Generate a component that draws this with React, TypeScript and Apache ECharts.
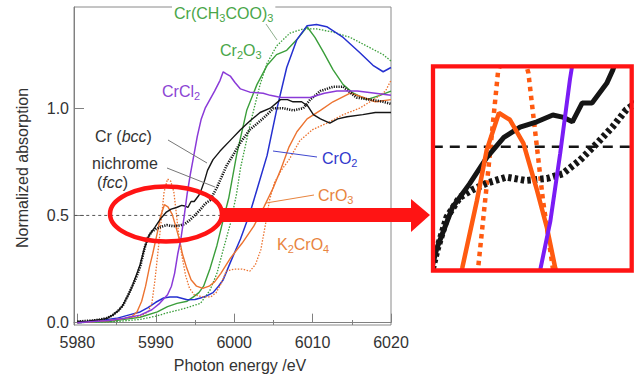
import React, { useEffect, useRef } from "react";
import * as echarts from "echarts";

const FONT = "'Liberation Sans', Arial, sans-serif";

const xLabelValues = [5980, 5990, 6000, 6010, 6020];
const xMinorValues = [5985, 5995, 6005, 6015];
const yLabelValues = [0, 0.5, 1.0];

const crBcc: number[][] = [
  [5980, 0.005], [5981, 0.005], [5982, 0.01], [5983, 0.015], [5983.8, 0.02], [5984.5, 0.035],
  [5985.2, 0.055], [5985.8, 0.08], [5986.5, 0.13], [5987, 0.17], [5987.5, 0.22], [5988, 0.27],
  [5988.57, 0.35], [5989.2, 0.41], [5989.9, 0.445], [5990.6, 0.484], [5991.3, 0.514], [5991.96, 0.529],
  [5992.65, 0.537], [5993.3, 0.547], [5993.7, 0.544], [5994.1, 0.537], [5994.5, 0.565], [5994.9, 0.565],
  [5995.5, 0.594], [5995.75, 0.614], [5996.2, 0.66], [5996.6, 0.71], [5997.3, 0.76], [5998.2, 0.8],
  [5999.5, 0.85], [6000.8, 0.9], [6002, 0.94], [6003.3, 0.98], [6004.6, 1.0], [6005.9, 1.04],
  [6006.8, 1.04], [6007.5, 1.03], [6008.6, 1.03], [6009.4, 1.01], [6010.1, 0.97], [6011, 0.95],
  [6012.2, 0.93], [6013.2, 0.95], [6014.4, 0.96], [6016.4, 0.97], [6018, 0.98], [6020, 0.98],
];

const nichrome: number[][] = [
  [5980, 0.005], [5981, 0.008], [5982, 0.01], [5983, 0.015], [5983.8, 0.022], [5984.5, 0.035],
  [5985.2, 0.055], [5985.8, 0.08], [5986.5, 0.13], [5987, 0.17], [5987.5, 0.21], [5988, 0.26],
  [5988.57, 0.347], [5988.98, 0.396], [5989.5, 0.425], [5990.0, 0.436], [5990.6, 0.446], [5991.4, 0.455],
  [5992.2, 0.45], [5993.06, 0.453], [5993.7, 0.46], [5994.4, 0.48], [5995.1, 0.505], [5995.75, 0.53],
  [5996.3, 0.555], [5996.9, 0.57], [5997.8, 0.63], [5999, 0.73], [6000, 0.79], [6000.8, 0.84],
  [6002, 0.9], [6003.3, 0.94], [6004.2, 0.97], [6005, 1.0], [6006.2, 1.0], [6007.5, 0.99],
  [6008.8, 1.0], [6009.7, 1.04], [6011, 1.08], [6012.6, 1.1], [6013.9, 1.1], [6015.6, 1.05],
  [6017.3, 1.04], [6019, 1.03], [6020, 1.02],
];

const crCl2: number[][] = [
  [5980, 0.0], [5982, 0.005], [5984, 0.01], [5986, 0.02], [5988, 0.035], [5989.5, 0.06],
  [5990.5, 0.09], [5991.5, 0.13], [5992, 0.17], [5992.4, 0.23], [5992.8, 0.32], [5993.2, 0.39],
  [5993.6, 0.49], [5994, 0.6], [5994.4, 0.69], [5994.8, 0.77], [5995.3, 0.87], [5995.8, 0.95],
  [5996.3, 1.0], [5996.9, 1.04], [5997.5, 1.08], [5998.2, 1.13], [5998.6, 1.17], [5999, 1.16],
  [5999.5, 1.15], [6000.1, 1.12], [6000.8, 1.09], [6002, 1.075], [6003.7, 1.07], [6004.6, 1.06],
  [6006, 1.05], [6007.1, 1.05], [6009.7, 1.05], [6011.5, 1.07], [6013.1, 1.08], [6015.7, 1.08],
  [6018, 1.07], [6020, 1.06],
];

const cr2o3: number[][] = [
  [5980, 0.0], [5984, 0.005], [5986, 0.015], [5988, 0.025], [5990.2, 0.05], [5991.5, 0.075],
  [5992.7, 0.09], [5994, 0.1], [5994.8, 0.12], [5995.5, 0.14], [5996.1, 0.17], [5996.9, 0.25],
  [5997.8, 0.36], [5998.6, 0.48], [5999.3, 0.58], [6000.3, 0.78], [6001.6, 0.99], [6002.9, 1.11],
  [6004.2, 1.2], [6005.4, 1.25], [6006.7, 1.27], [6008, 1.32], [6009.3, 1.38], [6010.3, 1.33],
  [6011.4, 1.26], [6012.6, 1.18], [6013.9, 1.11], [6015.2, 1.07], [6016.9, 1.04], [6018.6, 1.06],
  [6020, 1.08],
];

const crAcetate: number[][] = [
  [5980, 0.0], [5985, 0.005], [5988, 0.015], [5990, 0.03], [5991.4, 0.045], [5993, 0.06],
  [5994, 0.07], [5995.7, 0.09], [5996.9, 0.15], [5997.8, 0.23], [5998.6, 0.34], [5999.5, 0.46],
  [6000.3, 0.6], [6000.8, 0.72], [6002, 0.92], [6003.3, 1.11], [6004.2, 1.21], [6005.4, 1.29],
  [6007.1, 1.35], [6008.8, 1.37], [6010.5, 1.37], [6012.6, 1.355], [6014.8, 1.33], [6016.9, 1.29],
  [6019, 1.25], [6020, 1.22],
];

const crO2: number[][] = [
  [5980, 0.0], [5983, 0.01], [5985, 0.02], [5986.5, 0.035], [5988, 0.05], [5989, 0.07],
  [5990, 0.095], [5991, 0.115], [5991.8, 0.12], [5992.7, 0.12], [5994, 0.107], [5995, 0.108],
  [5995.7, 0.115], [5996.5, 0.125], [5997.3, 0.14], [5998, 0.17], [5998.6, 0.2], [5999.5, 0.28],
  [6000.8, 0.39], [6002, 0.51], [6002.9, 0.62], [6004.2, 0.78], [6005.4, 0.99], [6006.7, 1.19],
  [6008, 1.32], [6009.3, 1.385], [6010.5, 1.39], [6011.8, 1.38], [6013.9, 1.33], [6016, 1.26],
  [6017.7, 1.2], [6019, 1.17], [6020, 1.19],
];

const crO3: number[][] = [
  [5980, 0.0], [5982, 0.005], [5984, 0.01], [5986, 0.02], [5987, 0.03], [5987.6, 0.05],
  [5988.2, 0.1], [5988.7, 0.17], [5989.2, 0.26], [5989.6, 0.32], [5990.2, 0.42], [5990.6, 0.495],
  [5991.1, 0.55], [5991.55, 0.54], [5992.1, 0.505], [5992.65, 0.436], [5993.06, 0.38], [5993.4, 0.32],
  [5993.9, 0.26], [5994.5, 0.2], [5995.2, 0.17], [5996, 0.16], [5996.8, 0.17], [5997.5, 0.19],
  [5998.3, 0.23], [5999.5, 0.3], [6001, 0.37], [6002.5, 0.45], [6003.8, 0.54], [6005, 0.63],
  [6006, 0.72], [6007, 0.82], [6008, 0.89], [6009.3, 0.95], [6011, 0.99], [6012.6, 1.03],
  [6014.8, 1.07], [6016.5, 1.05], [6018, 1.03], [6020, 1.04],
];

const k2cro4: number[][] = [
  [5980, 0.0], [5984, 0.01], [5986, 0.02], [5988, 0.03], [5989, 0.05], [5989.5, 0.09],
  [5989.9, 0.2], [5990.25, 0.32], [5990.65, 0.46], [5991.06, 0.61], [5991.5, 0.67], [5991.9, 0.66],
  [5992.3, 0.61], [5992.65, 0.5], [5992.9, 0.42], [5993.3, 0.32], [5993.8, 0.22], [5994.3, 0.16],
  [5994.9, 0.13], [5996, 0.12], [5997, 0.12], [5997.7, 0.14], [5998.3, 0.18], [5999, 0.24],
  [6000, 0.25], [6001, 0.25], [6002, 0.24], [6002.7, 0.27], [6003.4, 0.34], [6004, 0.46],
  [6004.5, 0.57], [6005.1, 0.65], [6006, 0.71], [6007, 0.76], [6008.4, 0.85], [6010, 0.9],
  [6011.8, 0.93], [6013.9, 0.97], [6016, 1.0], [6018.2, 1.05], [6019.3, 1.08], [6020, 1.13],
];

const halfLevelMain: number[][] = [[5979.6, 0.5], [5998.3, 0.5]];
const halfLevelInset: number[][] = [[5988.4, 0.5], [5996.5, 0.5]];

const BLACK = "#151515";
const GREEN = "#3a9e3a";
const BLUE = "#2530d0";
const PURPLE = "#8a3ad8";
const ORANGE = "#ec7330";
const INSET_ORANGE = "#ff5a10";
const INSET_PURPLE = "#7a1cf5";
const RED = "#ff1414";

function line(data: number[][], color: string, width: number, type: any, idx: number, z = 2) {
  return {
    type: "line",
    data,
    xAxisIndex: idx,
    yAxisIndex: idx,
    showSymbol: false,
    symbol: "none",
    silent: true,
    clip: true,
    z,
    lineStyle: { color, width, type, cap: "butt" },
  };
}

const sub = (fill: string) => ({ fontSize: 11, fontFamily: FONT, fill, lineHeight: 10, verticalAlign: "bottom" });
const nor = (fill: string) => ({ fontSize: 16, fontFamily: FONT, fill, lineHeight: 20 });
const ita = (fill: string) => ({ fontSize: 16, fontFamily: FONT, fill, lineHeight: 20, fontStyle: "italic" });

function label(text: string, x: number, y: number, fill: string, extra: any = {}) {
  return {
    type: "text",
    x,
    y,
    z: 50,
    style: {
      text,
      textVerticalAlign: "middle",
      textAlign: "left",
      fill,
      rich: { n: nor(fill), s: sub(fill), i: ita(fill) },
      ...extra,
    },
  };
}

function pointer(x1: number, y1: number, x2: number, y2: number, color: string) {
  return { type: "line", z: 40, shape: { x1, y1, x2, y2 }, style: { stroke: color, lineWidth: 1 } };
}

export default function App() {
  const ref = useRef<HTMLDivElement>(null);
  useEffect(() => {
    const chart = echarts.init(ref.current!, null, { renderer: "svg" });
    const axisColor = "#808080";
    const option: any = {
      animation: false,
      backgroundColor: "#ffffff",
      grid: [
        { left: 74, top: 7, width: 317, height: 318, show: true, borderColor: "#8a8a8a", borderWidth: 1 },
        { left: 435, top: 68.5, width: 194.5, height: 200, show: false },
      ],
      xAxis: [
        {
          type: "value", gridIndex: 0, min: 5979.57, max: 6020,
          axisLine: { show: true, lineStyle: { color: axisColor } },
          axisTick: { show: true, inside: true, length: 9, customValues: xLabelValues, lineStyle: { color: axisColor } },
          axisLabel: {
            customValues: xLabelValues, color: "#333", fontSize: 16, fontFamily: FONT, margin: 9,
            formatter: (v: number) => String(Math.round(v)),
          },
          splitLine: { show: false },
        },
        { type: "value", gridIndex: 1, min: 5988.49, max: 5996.43, show: false },
        {
          type: "value", gridIndex: 0, min: 5979.57, max: 6020, position: "bottom",
          axisLine: { show: false },
          axisTick: { show: true, inside: true, length: 5, customValues: xMinorValues, lineStyle: { color: axisColor } },
          axisLabel: { show: false },
          splitLine: { show: false },
        },
      ],
      yAxis: [
        {
          type: "value", gridIndex: 0, min: -0.011, max: 1.472,
          axisLine: { show: true, lineStyle: { color: axisColor } },
          axisTick: { show: true, inside: true, length: 10, customValues: yLabelValues, lineStyle: { color: axisColor } },
          axisLabel: {
            customValues: yLabelValues, color: "#333", fontSize: 16, fontFamily: FONT, margin: 5,
            formatter: (v: number) => v.toFixed(1),
          },
          splitLine: { show: false },
        },
        { type: "value", gridIndex: 1, min: 0.3196, max: 0.616, show: false },
      ],
      series: [
        line(halfLevelMain, "#555", 1, [3, 3], 0, 1),
        line(crAcetate, GREEN, 1.3, [1.5, 1.5], 0),
        line(cr2o3, GREEN, 1.4, "solid", 0),
        line(crO2, BLUE, 1.5, "solid", 0),
        line(k2cro4, ORANGE, 1.3, [1.5, 1.5], 0),
        line(crO3, ORANGE, 1.4, "solid", 0),
        line(nichrome, BLACK, 2.6, [1.2, 1.2], 0),
        line(crBcc, BLACK, 1.4, "solid", 0),
        line(crCl2, PURPLE, 1.5, "solid", 0),

        line(halfLevelInset, BLACK, 2.5, [10, 7], 1, 1),
        line(crAcetate, GREEN, 4, [4, 4], 1),
        line(cr2o3, GREEN, 4, "solid", 1),
        line(crO2, BLUE, 4, "solid", 1),
        line(k2cro4, INSET_ORANGE, 4.5, [4.5, 4.5], 1),
        line(nichrome, BLACK, 7, [3.5, 3], 1),
        line(crBcc, BLACK, 5, "solid", 1),
        line(crO3, INSET_ORANGE, 4.5, "solid", 1),
        line(crCl2, INSET_PURPLE, 4, "solid", 1),
      ],
      graphic: [
        {
          type: "text", x: 22, y: 168, rotation: Math.PI / 2, z: 50,
          style: { text: "Normalized absorption", fill: "#333", font: `16px ${FONT}`, textAlign: "center", textVerticalAlign: "middle" },
        },
        {
          type: "text", x: 240, y: 365, z: 50,
          style: { text: "Photon energy /eV", fill: "#333", font: `16px ${FONT}`, textAlign: "center", textVerticalAlign: "middle" },
        },
        label("{n|Cr(CH}{s|3}{n|COO)}{s|3}", 172, 13, "#49a649", { backgroundColor: "#fff", padding: [0, 2, 0, 2] }),
        label("{n|Cr}{s|2}{n|O}{s|3}", 220, 50, "#49a649"),
        label("{n|CrCl}{s|2}", 162, 91, "#8c44d4"),
        label("{n|Cr (}{i|bcc}{n|)}", 95, 136, "#333"),
        label("{n|nichrome}", 92, 163, "#333"),
        label("{n|(}{i|fcc}{n|)}", 97, 182, "#333"),
        label("{n|CrO}{s|2}", 322, 158, "#3238cc"),
        label("{n|CrO}{s|3}", 318, 195, "#e8843e"),
        label("{n|K}{s|2}{n|CrO}{s|4}", 277, 244, "#e8843e"),
        pointer(266, 24, 277, 40, "#8fb08f"),
        pointer(168, 140, 207, 163, "#777"),
        pointer(167, 168, 215, 187, "#777"),
        pointer(273, 151, 317, 157, "#4048d0"),
        pointer(266, 203, 314, 195, "#e8843e"),
        {
          type: "ellipse", z: 60,
          shape: { cx: 166, cy: 214, rx: 56, ry: 27.5 },
          style: { fill: "none", stroke: RED, lineWidth: 4.5 },
        },
        {
          type: "rect", z: 60,
          shape: { x: 221, y: 208, width: 192, height: 14 },
          style: { fill: RED },
        },
        {
          type: "polygon", z: 60,
          shape: { points: [[411, 199], [430, 215], [411, 232]] },
          style: { fill: RED },
        },
        {
          type: "rect", z: 60,
          shape: { x: 433, y: 66.3, width: 198.7, height: 204.2 },
          style: { fill: "none", stroke: RED, lineWidth: 4.3 },
        },
      ],
    };
    chart.setOption(option);
    return () => chart.dispose();
  }, []);
  return <div ref={ref} style={{ position: "fixed", left: 0, top: 0, width: 641, height: 378 }} />;
}
